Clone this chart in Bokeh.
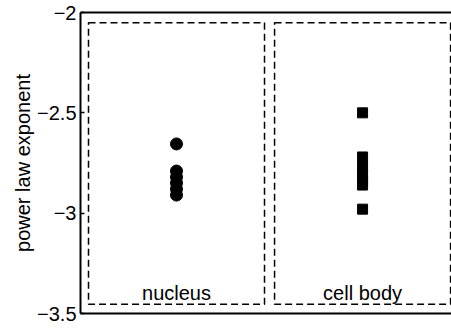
from bokeh.plotting import figure
from bokeh.models import Range1d, LinearAxis, FixedTicker, CustomJSTickFormatter
from bokeh.core.properties import value
from bokeh.embed import file_html
from bokeh.resources import INLINE

categories = ["nucleus", "cell body"]
nucleus_vals = [-2.655, -2.79, -2.82, -2.85, -2.88, -2.91]
cellbody_vals = [-2.50, -2.72, -2.77, -2.81, -2.84, -2.86, -2.98]
y_ticks = [-3.5, -3, -2.5, -2]
y_tick_labels = ["\u22123.5", "\u22123", "\u22122.5", "\u22122"]

FONT = "Liberation Sans"

p = figure(width=451, height=328, output_backend="svg", toolbar_location=None,
           x_range=Range1d(0.484, 2.478), y_range=Range1d(-3.5, -2.0),
           x_axis_location=None, y_axis_location=None,
           min_border_left=80, min_border_right=0, min_border_top=12, min_border_bottom=15)
p.outline_line_color = None
p.xgrid.visible = False
p.ygrid.visible = False
p.background_fill_color = "white"

yax = LinearAxis(ticker=FixedTicker(ticks=y_ticks),
                 formatter=CustomJSTickFormatter(args=dict(labs=y_tick_labels, tvals=y_ticks), code="""
const i = tvals.findIndex(t => Math.abs(t - tick) < 1e-9);
return i >= 0 ? labs[i] : '';
"""))
yax.axis_label = "power law exponent"
yax.axis_label_text_font = FONT
yax.axis_label_text_font_style = "normal"
yax.axis_label_text_font_size = "20px"
yax.axis_label_text_color = "black"
yax.axis_label_standoff = 0
yax.major_label_text_font = FONT
yax.major_label_text_font_size = "20px"
yax.major_label_text_color = "black"
yax.major_label_standoff = 4
yax.major_tick_in = 4
yax.major_tick_out = 0
yax.minor_tick_line_color = None
yax.axis_line_width = 2
yax.axis_line_color = "black"
yax.major_tick_line_color = "black"
yax.major_tick_line_width = 1.5
p.add_layout(yax, "left")

for loc in ("below", "above"):
    ax = LinearAxis(ticker=FixedTicker(ticks=[]))
    ax.major_label_text_font_size = "0px"
    ax.major_tick_line_color = None
    ax.minor_tick_line_color = None
    ax.major_label_standoff = 0
    ax.axis_line_width = 2
    ax.axis_line_color = "black"
    p.add_layout(ax, loc)

# dashed category boxes
xs = [i + 1 for i in range(len(categories))]
p.quad(left=[x - 0.473 for x in xs], right=[x + 0.473 for x in xs],
       top=[-2.051] * len(xs), bottom=[-3.454] * len(xs),
       fill_color=None, line_color="black", line_width=1.5, line_dash="7 4")

p.scatter([1] * len(nucleus_vals), nucleus_vals, marker="circle", size=12,
          fill_color="black", line_color="black")
p.scatter([2] * len(cellbody_vals), cellbody_vals, marker="square", size=10,
          fill_color="black", line_color="black")

p.text(x=xs, y=[-3.398] * len(xs), text=categories, text_font=value(FONT),
       text_font_size="20px", text_align="center", text_baseline="alphabetic",
       text_color="black")

open("out.html", "w").write(file_html(p, INLINE))
